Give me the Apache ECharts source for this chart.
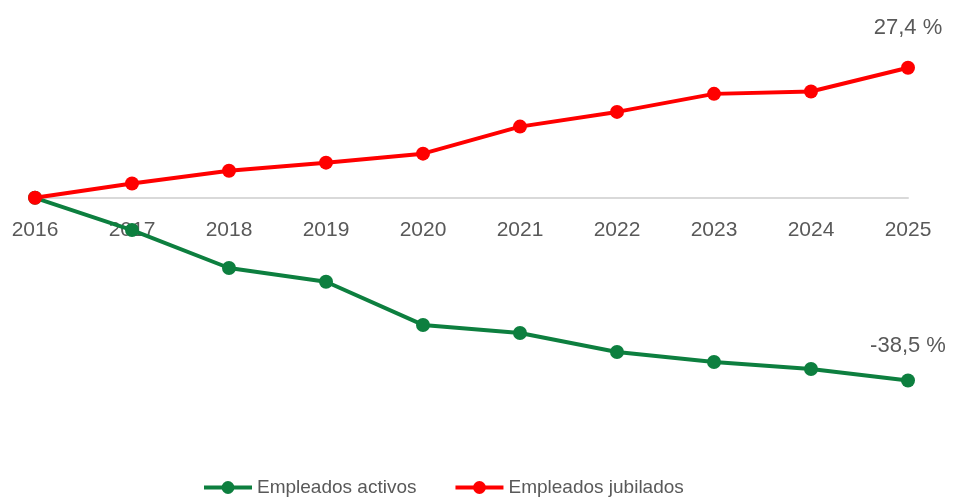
<!DOCTYPE html>
<html>
<head>
<meta charset="utf-8">
<script src="https://cdn.jsdelivr.net/npm/echarts@6/dist/echarts.min.js"></script>
<style>
html, body { margin: 0; padding: 0; background: #fff; }
#chart { width: 960px; height: 497px; }
</style>
</head>
<body>
<div id="chart"></div>
<script>
var years = ['2016', '2017', '2018', '2019', '2020', '2021', '2022', '2023', '2024', '2025'];
var activos = [0, -6.8, -14.8, -17.7, -26.8, -28.5, -32.5, -34.6, -36.1, -38.5];
var jubilados = [0, 3.0, 5.7, 7.4, 9.3, 15.0, 18.1, 21.9, 22.4, 27.4];

var textColor = '#595959';
var font = 'Liberation Sans';

// solo la etiqueta del último año
function lastLabel(v, p) {
	return p.dataIndex === years.length - 1 ? v.toFixed(1).replace('.', ',') + ' %' : '';
}

var chart = echarts.init(document.getElementById('chart'));
var option = {
	animation: false,
	grid: { left: 35, right: 52, top: 8, height: 427 },
	legend: {
		left: 197,
		top: 473,
		itemWidth: 48,
		itemHeight: 16,
		itemGap: 37,
		lineStyle: { width: 4 },
		textStyle: { color: textColor, fontSize: 19, fontFamily: font },
		data: ['Empleados activos', 'Empleados jubilados']
	},
	xAxis: {
		type: 'category',
		data: years,
		boundaryGap: false,
		offset: -237, // eje en el cero
		axisLine: { onZero: false, lineStyle: { color: '#d9d9d9', width: 2 } },
		axisTick: { show: false },
		axisLabel: { color: textColor, fontSize: 21, fontFamily: font, margin: 22 }
	},
	yAxis: {
		type: 'value',
		min: -50,
		max: 40,
		show: false,
		splitLine: { show: false }
	},
	series: [{
		name: 'Empleados activos',
		type: 'line',
		data: activos,
		symbol: 'circle',
		symbolSize: 14,
		z: 2,
		itemStyle: { color: '#0d7f3f' },
		lineStyle: { width: 4, color: '#0d7f3f' },
		label: {
			show: true, position: 'top', distance: 17,
			color: textColor, fontSize: 22, fontFamily: font,
			formatter: function (p) { return lastLabel(p.value, p); }
		}
	}, {
		name: 'Empleados jubilados',
		type: 'line',
		data: jubilados,
		symbol: 'circle',
		symbolSize: 14,
		z: 3,
		itemStyle: { color: '#ff0000' },
		lineStyle: { width: 4, color: '#ff0000' },
		label: {
			show: true, position: 'top', distance: 22,
			color: textColor, fontSize: 22, fontFamily: font,
			formatter: function (p) { return lastLabel(p.value, p); }
		}
	}]
};
chart.setOption(option);
</script>
</body>
</html>
